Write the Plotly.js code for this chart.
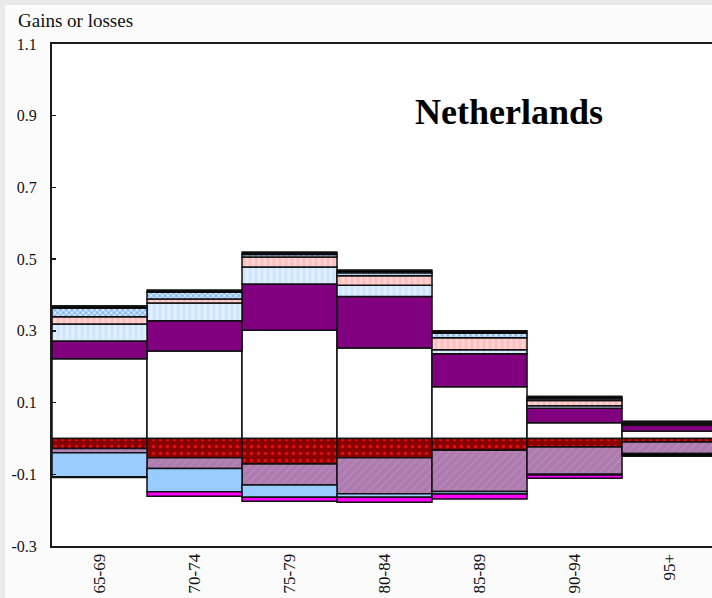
<!DOCTYPE html>
<html>
<head>
<meta charset="utf-8">
<script src="https://cdn.plot.ly/plotly-3.0.1.min.js"></script>
<style>
  html, body { margin: 0; padding: 0; background: #e9e9e9; }
  #chart { position: absolute; left: 5px; top: 5px; width: 707px; height: 593px; }
</style>
</head>
<body>
<div id="chart"></div>
<script>
// Age groups
const ageGroups = ["65-69", "70-74", "75-79", "80-84", "85-89", "90-94", "95+"];

// Gains (stacked upward from zero, bottom to top)
const gainBase      = [0.222, 0.244, 0.302, 0.252, 0.144, 0.044, 0.020];
const gainPurple    = [0.050, 0.084, 0.129, 0.144, 0.092, 0.040, 0.017];
const gainLightBlue = [0.047, 0.050, 0.047, 0.031, 0.011, 0.007, 0.002];
const gainPink      = [0.020, 0.011, 0.028, 0.027, 0.034, 0.015, 0.001];
const gainChecked   = [0.024, 0.019, 0.007, 0.008, 0.012, 0.005, 0.003];
const gainTop       = [0.006, 0.005, 0.006, 0.007, 0.007, 0.006, 0.004];

// Losses (stacked downward from zero, top to bottom)
const lossDarkRed   = [-0.028, -0.054, -0.071, -0.054, -0.033, -0.024, -0.010];
const lossMauve     = [-0.012, -0.030, -0.059, -0.100, -0.115, -0.076, -0.032];
const lossLightBlue = [-0.067, -0.065, -0.034, -0.010, -0.007, -0.002, 0];
const lossMagenta   = [-0.002, -0.012, -0.011, -0.014, -0.014, -0.009, 0];
const lossBottom    = [0, 0, 0, 0, 0, 0, -0.008];

// Y axis ticks
const yTickVals = [1.1, 0.9, 0.7, 0.5, 0.3, 0.1, -0.1, -0.3];
const yTickText = ["1.1", "0.9", "0.7", "0.5", "0.3", "0.1", "-0.1", "-0.3"];

const outline = { color: "#111111", width: 1.5 };

function seg(name, values, color, pattern) {
  const marker = { color: color, line: outline };
  if (pattern) marker.pattern = pattern;
  return { type: "bar", name: name, x: ageGroups, y: values, marker: marker,
           hoverinfo: "x+y+name" };
}

const traces = [
  seg("base", gainBase, "#ffffff"),
  seg("purple", gainPurple, "#800080"),
  seg("light blue", gainLightBlue, "#cfe5ff",
      { shape: "|", fgcolor: "#e2efff", bgcolor: "#cfe5ff", size: 6, solidity: 0.5 }),
  seg("pink", gainPink, "#ffc4c4",
      { shape: "|", fgcolor: "#ffd4d4", bgcolor: "#ffbebe", size: 6, solidity: 0.5 }),
  seg("checked", gainChecked, "#9cc8f4",
      { shape: "x", fgcolor: "#ffffff", bgcolor: "#8fbef0", size: 4, solidity: 0.35 }),
  seg("top", gainTop, "#000000"),

  seg("dark red", lossDarkRed, "#8c0000",
      { shape: ".", fgcolor: "#e01010", bgcolor: "#8a0000", size: 7, solidity: 0.2 }),
  seg("mauve", lossMauve, "#b07cb0",
      { shape: "/", fgcolor: "#b986b9", bgcolor: "#ae7bae", size: 6, solidity: 0.3 }),
  seg("light blue solid", lossLightBlue, "#99ccff"),
  seg("magenta", lossMagenta, "#ff00ff"),
  seg("bottom", lossBottom, "#000000")
];

const serif = "'Liberation Serif', 'Times New Roman', serif";

const layout = {
  width: 707,
  height: 593,
  margin: { l: 47, r: 0, t: 39, b: 52 },
  paper_bgcolor: "#fbfbfb",
  plot_bgcolor: "#ffffff",
  barmode: "relative",
  bargap: 0,
  showlegend: false,
  font: { family: serif, size: 12, color: "#111111" },
  xaxis: {
    type: "category",
    range: [-0.5, 6.447],
    tickangle: -90,
    ticks: "",
    showline: true,
    mirror: true,
    linecolor: "#1a1a1a",
    linewidth: 2,
    showgrid: false,
    zeroline: false,
    tickfont: { family: serif, size: 17, color: "#111111" },
    ticklabelstandoff: -1
  },
  yaxis: {
    range: [-0.3, 1.1],
    tickvals: yTickVals,
    ticktext: yTickText,
    ticks: "inside",
    ticklen: 4,
    tickwidth: 1.5,
    tickcolor: "#1a1a1a",
    showline: true,
    linecolor: "#1a1a1a",
    linewidth: 2,
    showgrid: false,
    zeroline: false,
    tickfont: { family: serif, size: 16, color: "#111111" },
    ticklabelstandoff: 10
  },
  annotations: [
    {
      text: "Gains or losses",
      xref: "paper", yref: "paper",
      x: -0.054, y: 1.046,
      xanchor: "left", yanchor: "middle",
      showarrow: false,
      font: { family: serif, size: 19, color: "#111111" }
    },
    {
      text: "<b>Netherlands</b>",
      xref: "paper", yref: "paper",
      x: 0.692, y: 0.864,
      xanchor: "center", yanchor: "middle",
      showarrow: false,
      font: { family: serif, size: 36, color: "#000000" }
    }
  ]
};

Plotly.newPlot("chart", traces, layout, { displayModeBar: false, staticPlot: true });
</script>
</body>
</html>
